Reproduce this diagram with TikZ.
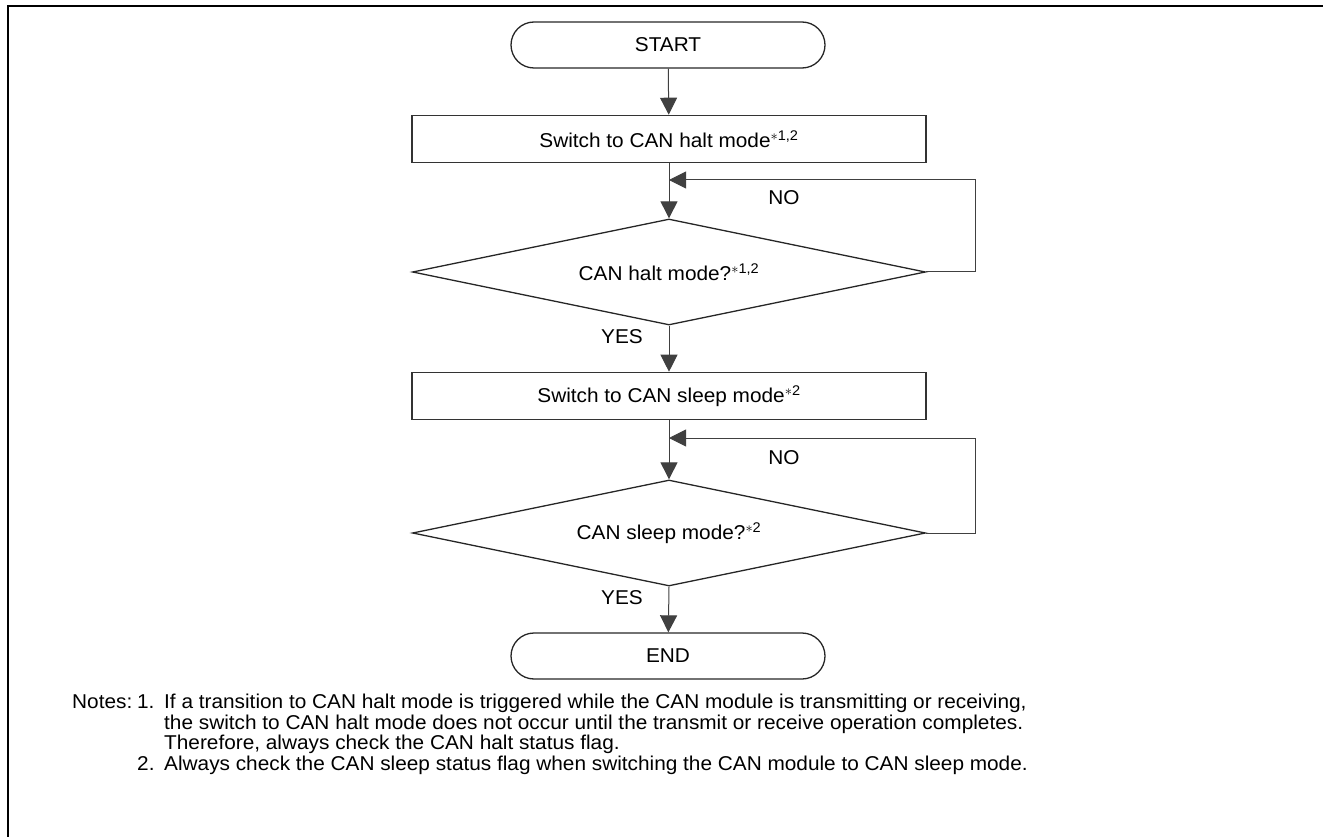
\documentclass[tikz,border=0pt]{standalone}
\usepackage{fontspec}
\setmainfont{Liberation Sans}[FakeStretch=1.04]
\usetikzlibrary{arrows.meta,shapes.geometric,shapes.misc}
\newcommand{\astsup}[1]{\textsuperscript{$\ast$#1}}
\begin{document}
\begin{tikzpicture}[x=1pt,y=-1pt,
  every node/.style={font=\fontsize{20pt}{20.5pt}\selectfont},
  term/.style={draw=black!85,line width=1.3pt,rounded rectangle,minimum width=314pt,minimum height=46pt,inner sep=0pt},
  procbox/.style={draw=black!80,line width=1.6pt,minimum width=514pt,minimum height=47pt,inner sep=0pt},
  decis/.style={draw=black!85,line width=1.3pt,diamond,aspect=4.84,minimum width=513pt,minimum height=106pt,inner sep=0pt},
  flow/.style={draw=black!75,line width=1pt},
  arr/.style={flow,-{Triangle[length=17pt,width=17pt]}},
  lbl/.style={inner sep=0pt}
]
\useasboundingbox (0,0) rectangle (1323,837);
\draw[line width=2.2pt] (8,837) -- (8,6) -- (1323,6);

\node[term] (start) at (668,45) {START};
\node[procbox] (b1) at (669,139) {Switch to CAN halt mode\astsup{1,2}};
\node[decis] (d1) at (669,272) {CAN halt mode?\astsup{1,2}};
\node[procbox] (b2) at (669,396) {Switch to CAN sleep mode\astsup{2}};
\node[decis] (d2) at (669,533) {CAN sleep mode?\astsup{2}};
\node[term] (end) at (668,656) {END};

\coordinate (j1) at (669,180);
\coordinate (j2) at (669,438);

\draw[arr] (start) -- (b1);
\draw[arr] (b1) -- (d1.north);
\draw[arr] (d1.east) -- ++(49,0) |- (j1);
\draw[arr] (d1.south) -- (b2);
\draw[arr] (b2) -- (d2.north);
\draw[arr] (d2.east) -- ++(49,0) |- (j2);
\draw[arr] (d2.south) -- (end);

\node[lbl] (no1) at (784,198) {NO};
\node[lbl,anchor=east] (yes1) at (643,337) {YES};
\node[lbl] (no2) at (784,458) {NO};
\node[lbl,anchor=east] (yes2) at (643,598) {YES};

\node[lbl,anchor=north west,align=left] (notes) at (72,694) {%
\begin{tabular}{@{}p{65pt}@{}p{27pt}@{}l@{}}
Notes: & 1. & If a transition to CAN halt mode is triggered while the CAN module is transmitting or receiving,\\
 & & the switch to CAN halt mode does not occur until the transmit or receive operation completes.\\
 & & Therefore, always check the CAN halt status flag.\\
 & 2. & Always check the CAN sleep status flag when switching the CAN module to CAN sleep mode.
\end{tabular}};
\end{tikzpicture}
\end{document}
